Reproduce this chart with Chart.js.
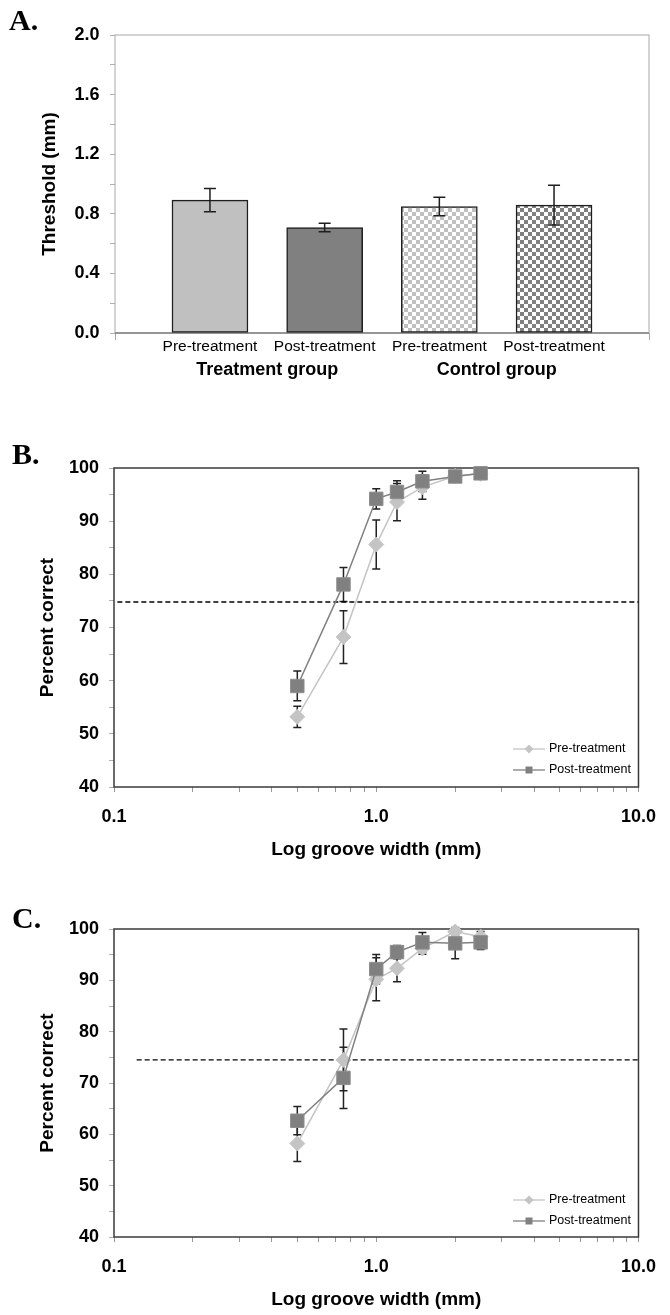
<!DOCTYPE html>
<html>
<head>
<meta charset="utf-8">
<script src="https://cdn.jsdelivr.net/npm/chart.js@4.4.0/dist/chart.umd.min.js"></script>
<style>
  html, body { margin: 0; padding: 0; background: #fff; }
  #page { position: relative; width: 670px; height: 1315px; overflow: hidden; }
  canvas { position: absolute; left: 0; }
</style>
</head>
<body>
<div id="page">
  <canvas id="chartA" width="670" height="400" style="top:0"></canvas>
  <canvas id="chartB" width="670" height="470" style="top:400px"></canvas>
  <canvas id="chartC" width="670" height="445" style="top:870px"></canvas>
</div>
<script>
// ---- panel A: thresholds
const barLabels = ["Pre-treatment", "Post-treatment", "Pre-treatment", "Post-treatment"];
const groupLabels = ["Treatment group", "Control group"];
const thresholdMeans = [0.892, 0.708, 0.849, 0.858];
const thresholdErrors = [0.078, 0.029, 0.062, 0.134];

// ---- panels B and C: percent correct vs groove width
const grooveWidths = [0.5, 0.75, 1.0, 1.2, 1.5, 2.0, 2.5];
const preB = [53.2, 68.2, 85.6, 93.6, 96.4, 98.5, 98.9];
const preBErr = [2.0, 4.95, 4.6, 3.5, 2.3, 0.8, 0.6];
const postB = [59.0, 78.1, 94.2, 95.5, 97.5, 98.4, 99.0];
const postBErr = [2.8, 3.2, 1.9, 2.1, 1.9, 0.8, 0.6];
const preC = [58.2, 74.5, 90.2, 92.35, 96.2, 99.5, 98.5];
const preCErr = [3.5, 6.0, 4.2, 2.65, 1.1, 0.8, 1.0];
const postC = [62.65, 71.0, 92.2, 95.5, 97.4, 97.2, 97.4];
const postCErr = [2.75, 5.95, 2.85, 1.3, 1.9, 3.0, 1.4];
const criterionB = [74.8, 74.8];
const criterionC = [74.5, 74.5];
const criterionSpanB = [0.103, 10];
const criterionSpanC = [0.122, 10];
const logTickLabels = { "0.1": "0.1", "1": "1.0", "10": "10.0" };
const seriesNames = ["Pre-treatment", "Post-treatment"];

const SANS = "'Liberation Sans', Arial, sans-serif";
Chart.defaults.font.family = SANS;
Chart.defaults.color = "#000";

const panelLetter = {
  id: "panelLetter",
  afterDraw(chart, args, opts) {
    const ctx = chart.ctx;
    ctx.save();
    ctx.font = "bold 30px 'Liberation Serif', 'Times New Roman', serif";
    ctx.fillStyle = "#000";
    ctx.textBaseline = "alphabetic";
    ctx.fillText(opts.text, opts.x, opts.y);
    ctx.restore();
  }
};

const frame = {
  id: "frame",
  beforeDatasetsDraw(chart, args, opts) {
    const { left, top, right, bottom } = chart.chartArea;
    const ctx = chart.ctx;
    ctx.save();
    ctx.strokeStyle = opts.color;
    ctx.lineWidth = opts.width;
    ctx.strokeRect(left, top, right - left, bottom - top);
    if (opts.bottomColor) {
      ctx.strokeStyle = opts.bottomColor;
      ctx.lineWidth = opts.bottomWidth;
      ctx.beginPath();
      ctx.moveTo(left, bottom);
      ctx.lineTo(right, bottom);
      ctx.stroke();
    }
    ctx.restore();
  }
};

function drawErrorBars(chart, opts) {
  const ctx = chart.ctx;
  const xs = chart.scales.x;
  const ys = chart.scales.y;
  ctx.save();
  ctx.strokeStyle = opts.color;
  ctx.lineWidth = opts.width;
  chart.data.datasets.forEach((ds) => {
    if (!ds.errors) return;
    ds.data.forEach((pt, j) => {
      const err = ds.errors[j];
      const x = xs.getPixelForValue(pt.x);
      const y1 = ys.getPixelForValue(pt.y + err);
      const y2 = ys.getPixelForValue(pt.y - err);
      ctx.beginPath();
      ctx.moveTo(x, y1);
      ctx.lineTo(x, y2);
      ctx.moveTo(x - opts.cap, y1);
      ctx.lineTo(x + opts.cap, y1);
      ctx.moveTo(x - opts.cap, y2);
      ctx.lineTo(x + opts.cap, y2);
      ctx.stroke();
    });
  });
  ctx.restore();
}

const errorBars = {
  id: "errorBars",
  beforeDatasetsDraw(chart, args, opts) { if (!opts.front) drawErrorBars(chart, opts); },
  afterDatasetsDraw(chart, args, opts) { if (opts.front) drawErrorBars(chart, opts); }
};

const groupNames = {
  id: "groupNames",
  afterDraw(chart, args, opts) {
    const ctx = chart.ctx;
    const xs = chart.scales.x;
    ctx.save();
    ctx.font = "bold 18px " + SANS;
    ctx.fillStyle = "#000";
    ctx.textAlign = "center";
    ctx.textBaseline = "middle";
    groupLabels.forEach((g, i) => {
      ctx.fillText(g, xs.getPixelForValue(1.5 + i * 2), opts.y);
    });
    ctx.restore();
  }
};

// small legend inside the plot, bottom right
const seriesKey = {
  id: "seriesKey",
  afterDraw(chart, args, opts) {
    const ctx = chart.ctx;
    ctx.save();
    let row = 0;
    chart.data.datasets.forEach((ds) => {
      if (!ds.label) return;
      const y = opts.y + row * opts.gap;
      const x0 = opts.x, x1 = opts.x + 32, xm = (x0 + x1) / 2;
      ctx.strokeStyle = ds.borderColor;
      ctx.lineWidth = 1.3;
      ctx.beginPath();
      ctx.moveTo(x0, y);
      ctx.lineTo(x1, y);
      ctx.stroke();
      ctx.fillStyle = ds.pointBackgroundColor;
      ctx.beginPath();
      if (ds.pointStyle === "rectRot") {
        ctx.moveTo(xm, y - 4.5);
        ctx.lineTo(xm + 4.5, y);
        ctx.lineTo(xm, y + 4.5);
        ctx.lineTo(xm - 4.5, y);
        ctx.closePath();
      } else {
        ctx.rect(xm - 3.5, y - 3.5, 7, 7);
      }
      ctx.fill();
      ctx.fillStyle = "#000";
      ctx.font = "12.5px " + SANS;
      ctx.textBaseline = "middle";
      ctx.fillText(ds.label, x1 + 4, y);
      row++;
    });
    ctx.restore();
  }
};

function checker(ctx, color) {
  const c = document.createElement("canvas");
  c.width = 8;
  c.height = 8;
  const g = c.getContext("2d");
  g.fillStyle = "#fff";
  g.fillRect(0, 0, 8, 8);
  g.fillStyle = color;
  g.fillRect(0, 0, 4, 4);
  g.fillRect(4, 4, 4, 4);
  return ctx.createPattern(c, "repeat");
}

// ---------- panel A
const ctxA = document.getElementById("chartA").getContext("2d");
new Chart(ctxA, {
  type: "bar",
  data: {
    datasets: [{
      data: thresholdMeans.map((v, i) => ({ x: i + 1, y: v })),
      errors: thresholdErrors,
      backgroundColor: ["#c0c0c0", "#808080", checker(ctxA, "#c0c0c0"), checker(ctxA, "#808080")],
      borderColor: "#1e1e1e",
      borderWidth: 1.5,
      borderSkipped: false,
      barThickness: 76
    }]
  },
  options: {
    responsive: false,
    animation: false,
    events: [],
    layout: { padding: { left: 0, top: 35, right: 21, bottom: 0 } },
    plugins: {
      legend: { display: false },
      tooltip: { enabled: false },
      panelLetter: { text: "A.", x: 9, y: 30 },
      frame: { color: "#a8a8a8", width: 1, bottomColor: "#808080", bottomWidth: 1.5 },
      errorBars: { front: true, cap: 6, color: "#1e1e1e", width: 1.5 },
      groupNames: { y: 370 }
    },
    scales: {
      x: {
        type: "linear",
        min: 0.172,
        max: 4.828,
        offset: false,
        afterFit: (s) => { s.height = 67; },
        afterBuildTicks: (s) => {
          s.ticks = [s.min, 1, 2, 3, 4, s.max].map((v) => ({ value: v }));
        },
        ticks: {
          autoSkip: false,
          maxRotation: 0,
          padding: -3,
          font: { size: 15.5 },
          callback: (v) => (Number.isInteger(v) ? barLabels[v - 1] : "")
        },
        grid: {
          drawOnChartArea: false,
          offset: false,
          tickLength: 7,
          tickColor: (c) => (c.tick && Number.isInteger(c.tick.value) ? "rgba(0,0,0,0)" : "#a8a8a8")
        },
        border: { display: false }
      },
      y: {
        min: 0,
        max: 2,
        afterFit: (s) => { s.width = 115; },
        afterBuildTicks: (s) => {
          const t = [];
          for (let i = 0; i <= 10; i++) t.push({ value: i * 0.2 });
          s.ticks = t;
        },
        ticks: {
          autoSkip: false,
          padding: 10.5,
          font: { size: 18, weight: "bold" },
          callback: (v, i) => (i % 2 === 0 ? v.toFixed(1) : "")
        },
        grid: { drawOnChartArea: false, tickLength: 5, tickColor: "#b0b0b0" },
        border: { display: false },
        title: {
          display: true,
          text: "Threshold (mm)",
          font: { size: 19, weight: "bold" },
          padding: { top: 38, bottom: 0 }
        }
      }
    }
  },
  plugins: [panelLetter, frame, errorBars, groupNames]
});

// ---------- panels B and C
function curveChart(id, letter, letterY, pre, preErr, post, postErr, crit, critSpan, dims) {
  const pts = (vals) => grooveWidths.map((w, i) => ({ x: w, y: vals[i] }));
  return new Chart(document.getElementById(id), {
    type: "line",
    data: {
      datasets: [
        {
          label: seriesNames[0],
          data: pts(pre),
          errors: preErr,
          borderColor: "#c4c4c4",
          borderWidth: 1.5,
          pointStyle: "rectRot",
          pointRadius: 7.5,
          pointBackgroundColor: "#c4c4c4",
          pointBorderColor: "#c8c8c8",
          pointBorderWidth: 1,
          clip: false,
          order: 1
        },
        {
          label: seriesNames[1],
          data: pts(post),
          errors: postErr,
          borderColor: "#808080",
          borderWidth: 1.5,
          pointStyle: "rect",
          pointRadius: 9.5,
          pointBackgroundColor: "#808080",
          pointBorderColor: "#8e8e8e",
          pointBorderWidth: 1,
          clip: false,
          order: 0
        },
        {
          data: critSpan.map((x, i) => ({ x, y: crit[i] })),
          borderColor: "#000",
          borderWidth: 1.3,
          borderDash: [5, 3],
          pointRadius: 0,
          clip: false,
          order: 2
        }
      ]
    },
    options: {
      responsive: false,
      animation: false,
      events: [],
      layout: { padding: { left: 0, top: dims.top, right: 24, bottom: 0 } },
      plugins: {
        legend: { display: false },
        tooltip: { enabled: false },
        panelLetter: { text: letter, x: 12, y: letterY },
        frame: { color: "#3a3a3a", width: 1.5 },
        errorBars: { front: false, cap: 4, color: "#222", width: 1.5 },
        seriesKey: { x: 513, y: dims.legendY, gap: 21 }
      },
      scales: {
        x: {
          type: "logarithmic",
          min: 0.1,
          max: 10,
          afterFit: (s) => { s.height = dims.xh; },
          afterBuildTicks: (s) => {
            const t = [];
            [0.1, 1].forEach((d) => {
              for (let k = 1; k <= 9; k++) t.push({ value: +(d * k).toFixed(2) });
            });
            t.push({ value: 10 });
            s.ticks = t;
          },
          ticks: {
            autoSkip: false,
            maxRotation: 0,
            padding: 14,
            font: { size: 18, weight: "bold" },
            callback: (v) => logTickLabels[String(v)] || ""
          },
          grid: { drawOnChartArea: false, tickLength: 5, tickColor: "#999" },
          border: { display: false },
          title: {
            display: true,
            text: "Log groove width (mm)",
            font: { size: 19, weight: "bold" },
            padding: { top: 0, bottom: dims.titlePad }
          }
        },
        y: {
          min: 40,
          max: 100,
          afterFit: (s) => { s.width = 114; },
          ticks: {
            stepSize: 5,
            autoSkip: false,
            padding: 10,
            font: { size: 18, weight: "bold" },
            callback: (v) => (v % 10 === 0 ? String(v) : "")
          },
          grid: { drawOnChartArea: false, tickLength: 5, tickColor: "#b0b0b0" },
          border: { display: false },
          title: {
            display: true,
            text: "Percent correct",
            font: { size: 19, weight: "bold" },
            padding: { top: 36, bottom: 0 }
          }
        }
      }
    },
    plugins: [panelLetter, frame, errorBars, seriesKey]
  });
}

curveChart("chartB", "B.", 64, preB, preBErr, postB, postBErr, criterionB, criterionSpanB,
  { top: 68, xh: 83, titlePad: 8.6, legendY: 349 });
curveChart("chartC", "C.", 58, preC, preCErr, postC, postCErr, criterionC, criterionSpanC,
  { top: 59, xh: 78, titlePad: 3.6, legendY: 330 });
</script>
</body>
</html>
